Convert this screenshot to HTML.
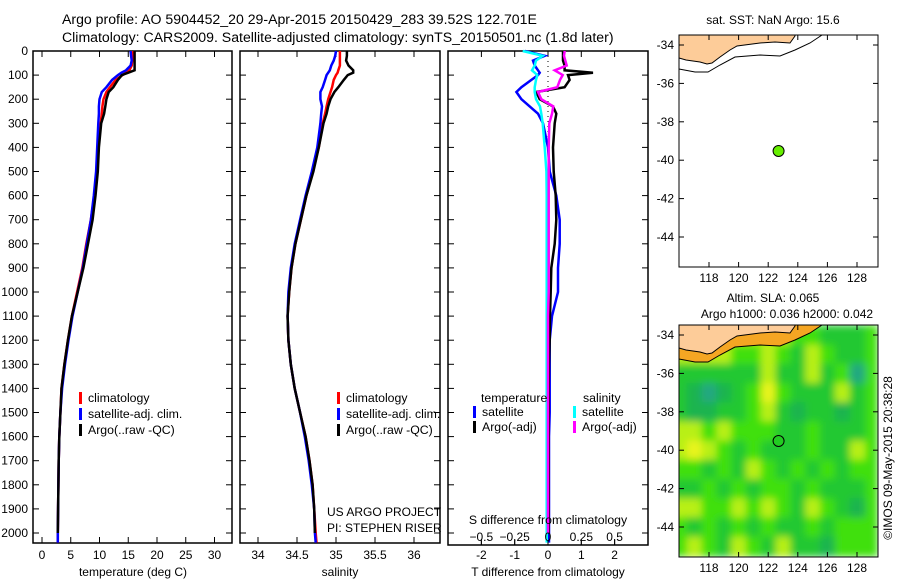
<!DOCTYPE html>
<html><head><meta charset="utf-8"><style>
html,body{margin:0;padding:0;background:#fff;}
svg{display:block;font-family:"Liberation Sans",sans-serif;}
</style></head><body>
<svg id="c" width="900" height="580" viewBox="0 0 900 580">
<defs><filter id="blur" x="0" y="0" width="1" height="1"><feGaussianBlur stdDeviation="4"/></filter>
<clipPath id="mapclip"><rect x="679" y="325" width="199" height="232"/></clipPath></defs>
<g id="g"></g>
</svg>
<script>
const depths=[0,20,40,60,80,90,100,120,150,170,200,230,260,300,400,500,600,700,800,900,1000,1100,1200,1300,1400,1500,1600,1700,1800,1900,2000,2040];
const tempClim=[15.8,15.8,15.7,15.6,15.2,14.6,14.0,12.8,11.8,11.2,10.7,10.5,10.4,10.2,9.8,9.5,9.1,8.5,7.7,7.0,6.1,5.2,4.5,3.9,3.4,3.2,3.0,2.9,2.85,2.8,2.75,2.75];
const tempSat=[15.4,15.5,15.6,15.4,14.6,13.8,13.2,12.2,11.2,10.4,10.0,9.9,9.9,9.8,9.6,9.4,9.0,8.5,7.8,7.1,6.2,5.3,4.6,4.0,3.5,3.2,3.0,2.9,2.85,2.8,2.75,2.75];
const tempArgo=[16.1,16.1,16.1,16.1,16.1,15.0,13.9,13.2,12.4,11.6,11.2,11.0,10.8,10.3,9.9,9.7,9.3,8.8,8.0,7.2,6.2,5.2,4.5,3.9,3.4,3.2,3.0,2.9,2.85,2.8,2.75,2.75];
const salClim=[35.05,35.05,35.05,35.05,35.03,35.02,35.0,34.97,34.95,34.93,34.9,34.88,34.86,34.83,34.78,34.7,34.62,34.55,34.48,34.43,34.4,34.38,34.39,34.42,34.47,34.54,34.61,34.66,34.7,34.72,34.74,34.75];
const salSat=[35.0,34.99,34.97,34.94,34.92,34.9,34.88,34.86,34.83,34.8,34.8,34.82,34.81,34.8,34.76,34.69,34.61,34.54,34.47,34.42,34.39,34.38,34.39,34.42,34.47,34.54,34.6,34.65,34.69,34.72,34.73,34.74];
const salArgo=[35.14,35.14,35.13,35.16,35.22,35.22,35.15,35.1,35.03,34.98,34.93,34.9,34.88,34.84,34.78,34.71,34.62,34.55,34.48,34.43,34.4,34.38,34.39,34.42,34.47,34.54,34.61,34.66,34.7,34.72,34.73,34.74];
const dTSat=[-0.7,-0.1,-0.45,-0.4,-0.3,-0.25,-0.3,-0.5,-0.8,-0.95,-0.8,-0.55,-0.3,-0.15,0,0.05,0.25,0.35,0.35,0.3,0.3,0.12,0.05,0.05,0.05,0.05,0.03,0.03,0.03,0.03,0.03,0.03];
const dTArgo=[0.45,0.45,0.45,0.5,0.5,1.35,0.6,0.65,0.5,-0.35,-0.25,0.15,0.25,0.2,0.15,0.17,0.23,0.25,0.2,0.1,0.08,0.06,0.05,0.03,0.02,0.02,0.02,0.02,0.02,0.02,0.02,0.02];
const dSSat=[-0.19,-0.04,-0.09,-0.1,-0.12,-0.1,-0.08,-0.09,-0.1,-0.1,-0.09,-0.06,-0.05,-0.04,-0.025,-0.012,-0.01,-0.01,-0.01,-0.01,-0.01,-0.01,-0.01,-0.01,-0.01,-0.01,-0.01,-0.01,-0.01,-0.01,-0.01,-0.01];
const dSArgo=[0.125,0.12,0.13,0.14,0.05,0.08,0.11,0.09,0.07,-0.075,-0.05,0.04,0.03,0.01,0.005,0.005,0.005,0.005,0.005,0.005,0.005,0,0,0,0,0,0,0,0,0,0,0];
const depthTicks=[0,100,200,300,400,500,600,700,800,900,1000,1100,1200,1300,1400,1500,1600,1700,1800,1900,2000];
const tempTicks=[0,5,10,15,20,25,30];
const salTicks=[34,34.5,35,35.5,36];
const dTTicks=[-2,-1,0,1,2];
const dSTicks=[-0.5,-0.25,0,0.25,0.5];
const latTicks=[-34,-36,-38,-40,-42,-44];
const lonTicks=[118,120,122,124,126,128];
const argoLon=122.701, argoLat=-39.52;
const slaLats=[-34,-35,-36,-37,-38,-39,-40,-41,-42,-43,-44,-45];
const slaLons=[116,117,118,119,120,121,122,123,124,125,126,127,128];
const slaGrid=[
[3,3,3,3,3,3,3,3,2,2,1,1,1],
[3,3,3,3,2,2,3,2,1,3,2,1,1],
[1,1,1,1,1,1,3,1,1,3,1,2,0],
[1,0.5,0,0.5,1,2,4,2,1,1,1,3,1],
[1,0.5,0.5,1,1,2,3,1,0.5,1,1,0.5,1],
[3,3,2,3,2,2,2,1,1,2,1,1,1],
[3,4,3,2,1,2,1,1,1,2,1,1,3],
[2,2,1,2,1,3,2,1,2,1,2,1,2],
[1,1,2,1,2,1,2,2,1,2,1,1,1],
[3,3,2,2,3,2,3,2,1,3,2,1,0.5],
[2,1,2,1,2,1,2,1,1,2,1,2,2],
[2,3,2,1,3,2,1,3,1,1,0.5,2,2]];

const NS='http://www.w3.org/2000/svg';
const G=document.getElementById('g');
function el(t,a,p){const e=document.createElementNS(NS,t);for(const k in a)e.setAttribute(k,a[k]);(p||G).appendChild(e);return e;}
function txt(x,y,s,anchor,size,p){const e=el('text',{x:x,y:y,'font-size':size||12,'text-anchor':anchor||'start',fill:'#000'},p);e.textContent=s;return e;}
const yD=d=>51+d*0.241;
const xT=t=>42+5.75*t;
const xS=s=>258+78*(s-34);
const xdT=t=>548+33.3*t;
const xdS=s=>548+133.3*s;
const lonX=l=>709+(l-118)*14.8;
const latY=(l,top)=>top+10+(-34-l)*19.2;

let t=txt(62,24,'Argo profile: AO 5904452_20 29-Apr-2015 20150429_283 39.52S 122.701E','start',14.1);

t=txt(62,42,'Climatology: CARS2009. Satellite-adjusted climatology: synTS_20150501.nc (1.8d later)','start',14.1);


function panel(x0,x1,y1,name){
  const g=el('g',{});
  
  
  el('rect',{x:x0,y:51,width:x1-x0,height:y1-51,fill:'#fff',stroke:'#000','stroke-width':1.5},g);
  depthTicks.forEach(d=>{el('line',{x1:x0,x2:x0+6,y1:yD(d),y2:yD(d),stroke:'#000'},g);el('line',{x1:x1-6,x2:x1,y1:yD(d),y2:yD(d),stroke:'#000'},g);});
  return g;
}
function line(vals,xf,color,name,g){
  const pts=vals.map((v,i)=>xf(v).toFixed(1)+','+yD(depths[i]).toFixed(1)).join(' ');
  const p=el('polyline',{points:pts,fill:'none',stroke:color,'stroke-width':2.5,'stroke-linejoin':'miter'},g);
  
  
}
function legendEntry(x,y,color,label,name,g){
  const e=el('g',{},g);
  
  
  el('rect',{x:x,y:y-10,width:3,height:12,fill:color},e);
  txt(x+9,y,label,'start',12.3,e);
}
let p1=panel(33,232,543,'temperature-panel');
depthTicks.forEach(d=>{txt(28,yD(d)+4,String(d),'end',12,p1);});
tempTicks.forEach(v=>{el('line',{x1:xT(v),x2:xT(v),y1:543,y2:537,stroke:'#000'},p1);el('line',{x1:xT(v),x2:xT(v),y1:51,y2:57,stroke:'#000'},p1);txt(xT(v),559,String(v),'middle',12,p1);});
t=txt(133,576,'temperature (deg C)','middle',12,p1);
line(tempClim,xT,'#ff0000','temp-climatology-line',p1);
line(tempSat,xT,'#0000ff','temp-satellite-line',p1);
line(tempArgo.slice(0,31),xT,'#000','temp-argo-line',p1);
legendEntry(79,402,'#ff0000','climatology','legend-climatology',p1);
legendEntry(79,418,'#0000ff','satellite-adj. clim.','legend-satellite',p1);
legendEntry(79,434,'#000','Argo(..raw -QC)','legend-argo',p1);
let p2=panel(240,440,543,'salinity-panel');
salTicks.forEach(v=>{el('line',{x1:xS(v),x2:xS(v),y1:543,y2:537,stroke:'#000'},p2);el('line',{x1:xS(v),x2:xS(v),y1:51,y2:57,stroke:'#000'},p2);txt(xS(v),559,String(v),'middle',12,p2);});
t=txt(340,576,'salinity','middle',12,p2);
line(salClim,xS,'#ff0000','sal-climatology-line',p2);
line(salSat,xS,'#0000ff','sal-satellite-line',p2);
line(salArgo.slice(0,31),xS,'#000','sal-argo-line',p2);
legendEntry(337,402,'#ff0000','climatology','legend-climatology-2',p2);
legendEntry(337,418,'#0000ff','satellite-adj. clim.','legend-satellite-2',p2);
legendEntry(337,434,'#000','Argo(..raw -QC)','legend-argo-2',p2);
txt(327,516,'US ARGO PROJECT','start',12,p2);
txt(327,532,'PI: STEPHEN RISER','start',12,p2);
let p3=panel(448,648,545,'difference-panel');
dTTicks.forEach(v=>{el('line',{x1:xdT(v),x2:xdT(v),y1:545,y2:539,stroke:'#000'},p3);el('line',{x1:xdT(v),x2:xdT(v),y1:51,y2:57,stroke:'#000'},p3);txt(xdT(v),559,String(v),'middle',12,p3);});
t=txt(548,576,'T difference from climatology','middle',12,p3);
el('line',{x1:548,x2:548,y1:51,y2:260,stroke:'#000','stroke-dasharray':'1,4'},p3);
line(dTSat,xdT,'#0000ff','t-diff-satellite-line',p3);
line(dTArgo.slice(0,31),xdT,'#000','t-diff-argo-line',p3);
line(dSSat,xdS,'#00ffff','s-diff-satellite-line',p3);
line(dSArgo.slice(0,31),xdS,'#ff00ff','s-diff-argo-line',p3);
txt(481,402,'temperature','start',12.3,p3);
txt(583,402,'salinity','start',12.3,p3);
legendEntry(473,416,'#0000ff','satellite','legend-t-satellite',p3);
legendEntry(473,431,'#000','Argo(-adj)','legend-t-argo',p3);
legendEntry(573,416,'#00ffff','satellite','legend-s-satellite',p3);
legendEntry(573,431,'#ff00ff','Argo(-adj)','legend-s-argo',p3);
txt(548,524,'S difference from climatology','middle',12.3,p3);
dSTicks.forEach(v=>{el('line',{x1:xdS(v),x2:xdS(v),y1:545,y2:541,stroke:'#000'},p3);txt(xdS(v),541,String(v).replace('-','−'),'middle',12,p3);});

function coast(top){
  const o=top-35;
  const land=[[679,35],[679,58],[686,60],[700,62],[707,64],[712,63],[720,57],[730,50],[737,46],[760,43],[775,42],[790,43],[795,36],[795,35]];
  const iso=[[679,69],[695,72],[708,72],[720,65],[735,57],[760,55],[780,56],[795,50],[810,43],[822,35]];
  return {land:land.map(p=>[p[0],p[1]+o]),iso:iso.map(p=>[p[0],p[1]+o])};
}
function mapFrame(name){
  const g=el('g',{});
  
  
  return g;
}
function axes(g,top){
  el('rect',{x:679,y:top,width:199,height:232,fill:'none',stroke:'#000','stroke-width':1},g);
  latTicks.forEach(l=>{const y=latY(l,top);el('line',{x1:679,x2:684,y1:y,y2:y,stroke:'#000'},g);el('line',{x1:873,x2:878,y1:y,y2:y,stroke:'#000'},g);txt(674,y+4,String(l),'end',12,g);});
  lonTicks.forEach(l=>{const x=lonX(l);el('line',{x1:x,x2:x,y1:top+232,y2:top+227,stroke:'#000'},g);el('line',{x1:x,x2:x,y1:top,y2:top+5,stroke:'#000'},g);txt(x,top+247,String(l),'middle',12,g);});
  const pt=el('circle',{cx:lonX(argoLon),cy:latY(argoLat,top),r:5.5,fill:top<100?'#66ee00':'#22cc22',stroke:'#000','stroke-width':1},g);
  
  
}
let m1=mapFrame('sst-map');
el('rect',{x:679,y:35,width:199,height:232,fill:'#fff'},m1);
let c1=coast(35);
el('polygon',{points:c1.land.map(p=>p.join(',')).join(' '),fill:'#fdcc99',stroke:'#000','stroke-width':1},m1);
el('polyline',{points:c1.iso.map(p=>p.join(',')).join(' '),fill:'none',stroke:'#000','stroke-width':1},m1);
axes(m1,35);
txt(773,24,'sat. SST: NaN Argo: 15.6','middle',12,m1);
let m2=mapFrame('sla-map');
const cols=['#20a880','#20c830','#40e010','#b8f018','#e8f41c','#f5a020'];
const hm=el('g',{'clip-path':'url(#mapclip)'},m2);
const hb=el('g',{filter:'url(#blur)'},hm);
el('rect',{x:679,y:325,width:199,height:232,fill:'#40e010'},hb);
slaGrid.forEach((row,ri)=>row.forEach((v,ci)=>{
  const x=lonX(slaLons[ci]-0.5),y=latY(slaLats[ri]+0.5,325);
  const col=v>=5?cols[5]:(v<=0.5?(v===0?cols[0]:'#1ab450'):cols[Math.round(v)]);
  const r=el('rect',{x:x,y:y,width:15.8,height:20,fill:col},hb);
  
  
}));
let c2=coast(325);
el('polygon',{points:c2.iso.concat([[878,325],[679,325]]).map(p=>p.join(',')).join(' '),fill:'#f5a623'},hm);
el('polygon',{points:c2.land.map(p=>p.join(',')).join(' '),fill:'#fdcc99',stroke:'#000','stroke-width':1},hm);
el('polyline',{points:c2.iso.map(p=>p.join(',')).join(' '),fill:'none',stroke:'#000','stroke-width':1},hm);
axes(m2,325);
txt(773,302,'Altim. SLA: 0.065','middle',12,m2);
txt(787,318,'Argo h1000: 0.036 h2000: 0.042','middle',12,m2);
t=txt(0,0,'©IMOS 09-May-2015 20:38:28','middle',12);
t.setAttribute('transform','translate(892,458) rotate(-90)');


</script>
</body></html>
